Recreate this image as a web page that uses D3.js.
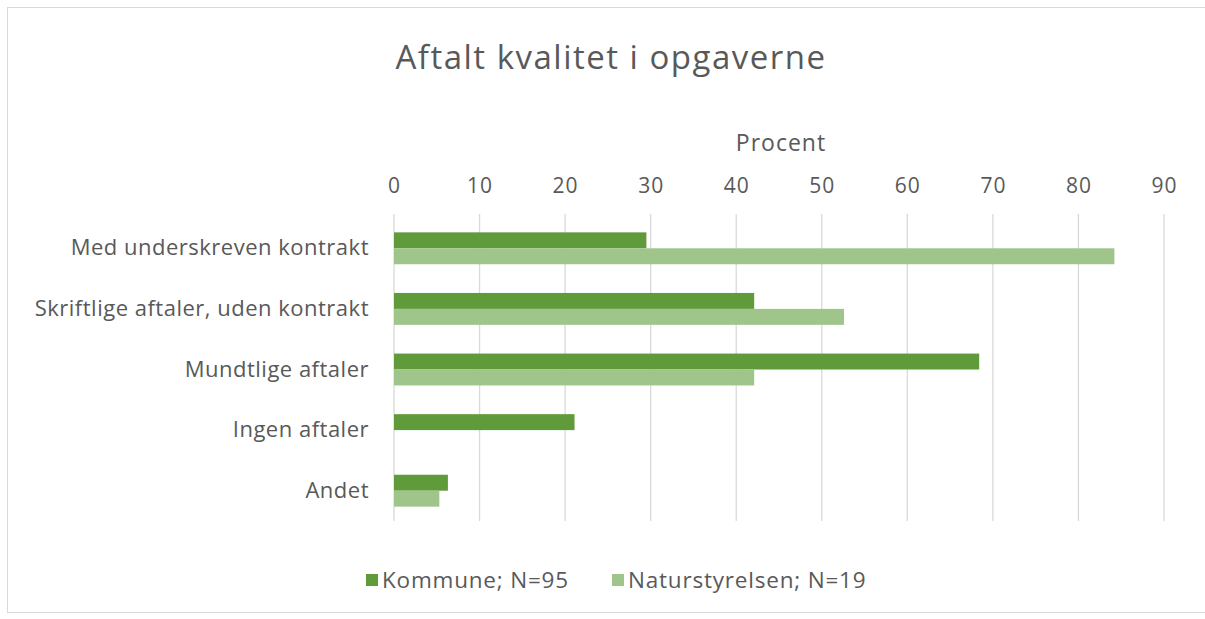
<!DOCTYPE html>
<html>
<meta charset="utf-8">
<head>
<script src="https://cdnjs.cloudflare.com/ajax/libs/d3/7.8.5/d3.min.js"></script>
<style>
  body { margin: 0; background: #fff; }
  text { font-family: "Open Sans", sans-serif; fill: #595959; }
</style>
</head>
<body>
<script>
// data (percent)
const categories = ["Med underskreven kontrakt", "Skriftlige aftaler, uden kontrakt", "Mundtlige aftaler", "Ingen aftaler", "Andet"];
const seriesNames = ["Kommune; N=95", "Naturstyrelsen; N=19"];
const kommune = [29.5, 42.1, 68.4, 21.1, 6.3];
const naturstyrelsen = [84.2, 52.6, 42.1, 0, 5.3];
const xTicks = [0, 10, 20, 30, 40, 50, 60, 70, 80, 90];
const colors = ["#609b3b", "#9fc58b"];

const width = 1205, height = 619;
const svg = d3.select("body").append("svg")
  .attr("width", width)
  .attr("height", height);

// chart frame
svg.append("rect")
  .attr("x", 7.5).attr("y", 7.5)
  .attr("width", width).attr("height", 605)
  .attr("fill", "none")
  .attr("stroke", "#d9d9d9");

const x = d3.scaleLinear().domain([0, 90]).range([394, 1164]);
const y = d3.scaleBand().domain(categories).range([218, 521]);
const inner = d3.scaleBand().domain([0, 1]).range([0, y.bandwidth()]).paddingInner(0).paddingOuter(0.9);

// gridlines
svg.append("g")
  .selectAll("line")
  .data(xTicks)
  .join("line")
  .attr("x1", d => x(d)).attr("x2", d => x(d))
  .attr("y1", 214).attr("y2", 521)
  .attr("stroke", "#d9d9d9")
  .attr("stroke-width", 1.3);

// top axis labels
const xAxis = d3.axisTop(x).tickValues(xTicks).tickSize(0).tickPadding(0);
const gx = svg.append("g").attr("transform", "translate(0,193)").call(xAxis);
gx.select(".domain").remove();
gx.selectAll("text")
  .style("font-size", "21px")
  .style("letter-spacing", "1px")
  .attr("fill", "#595959")
  .attr("font-family", "Open Sans");

// category labels
const yAxis = d3.axisLeft(y).tickSize(0).tickPadding(0);
const gy = svg.append("g").attr("transform", "translate(369,0)").call(yAxis);
gy.select(".domain").remove();
gy.selectAll("text")
  .style("font-size", "22px")
  .style("letter-spacing", "0.5px")
  .attr("fill", "#595959")
  .attr("font-family", "Open Sans");

// bars
const series = [kommune, naturstyrelsen];
series.forEach((vals, s) => {
  svg.append("g")
    .selectAll("rect")
    .data(vals)
    .join("rect")
    .attr("x", x(0))
    .attr("y", (d, i) => y(categories[i]) + inner(s))
    .attr("width", d => x(d) - x(0))
    .attr("height", inner.bandwidth())
    .attr("fill", colors[s]);
});

// titles
svg.append("text")
  .attr("x", 611).attr("y", 69)
  .attr("text-anchor", "middle")
  .style("font-size", "33px")
  .style("letter-spacing", "1.5px")
  .text("Aftalt kvalitet i opgaverne");

svg.append("text")
  .attr("x", 781).attr("y", 151)
  .attr("text-anchor", "middle")
  .style("font-size", "23px")
  .style("letter-spacing", "1px")
  .text("Procent");

// legend
const legendX = [366, 612];
const legend = svg.append("g");
seriesNames.forEach((name, s) => {
  legend.append("rect")
    .attr("x", legendX[s]).attr("y", 574)
    .attr("width", 12).attr("height", 12)
    .attr("fill", colors[s]);
  legend.append("text")
    .attr("x", legendX[s] + 16).attr("y", 588)
    .style("font-size", "22.5px")
    .style("letter-spacing", "0.8px")
    .text(name);
});
</script>
</body>
</html>
